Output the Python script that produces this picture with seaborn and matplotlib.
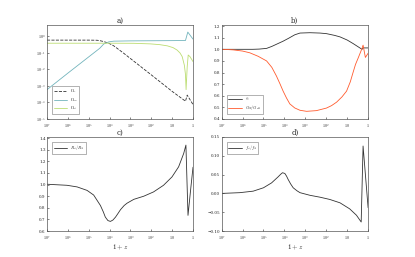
import matplotlib
matplotlib.use("Agg")
import matplotlib.pyplot as plt
import seaborn as sns

# --- panel a): density fractions vs 1+z ---
zr = [1e7, 1e6, 1e5, 4e4, 2.8e4, 1.9e4, 1.1e4, 6.3e3, 2.3e3, 1e3, 1e2, 10, 2.3, 1.9, 1.0]
omega_r = [0.60, 0.60, 0.60, 0.59, 0.55, 0.49, 0.39, 0.27, 0.105, 0.046, 0.0047, 0.00047, 1.2e-4, 2.8e-4, 7.5e-5]

zm = [1e7, 1e6, 1e5, 3e4, 1.9e4, 1.1e4, 6.3e3, 1e3, 1e2, 10, 2.3, 1.78, 1.0]
omega_m = [6e-4, 6e-3, 0.058, 0.19, 0.35, 0.47, 0.52, 0.54, 0.55, 0.56, 0.57, 1.84, 0.69]

zp = [1e7, 1e4, 7e2, 1.1e2, 40, 17, 9, 5.8, 4.2, 3.3, 2.6, 2.3, 2.15, 1.9, 1.7, 1.4, 1.0]
omega_p = [0.39, 0.39, 0.385, 0.355, 0.32, 0.27, 0.21, 0.15, 0.10, 0.06, 0.018, 0.005, 6e-4, 0.0145, 0.075, 0.06, 0.03]

# --- panel b) ---
zb = [1e7, 3.2e5, 1.6e5, 7.1e4, 4e4, 2e4, 1.15e4, 6.3e3, 3.2e3, 1.8e3, 6e2, 2e2, 98, 40, 22, 10, 5.25, 3.2, 1.95, 1.74, 1.0]
alpha = [1.0, 1.0, 1.002, 1.008, 1.025, 1.05, 1.07, 1.095, 1.125, 1.14, 1.143, 1.14, 1.135, 1.12, 1.107, 1.08, 1.05, 1.025, 1.0, 1.012, 1.012]

zg = [1e7, 5e6, 2.75e6, 1e6, 4.5e5, 1.8e5, 7.1e4, 4e4, 2.4e4, 1.6e4, 1.15e4, 7.9e3, 5.5e3, 3.2e3, 1.8e3,
      870, 295, 98, 56, 32, 17.8, 10.7, 7.1, 5.25, 4.0, 3.0, 1.95, 1.74, 1.35, 1.0]
g_ratio = [1.0, 0.998, 0.995, 0.985, 0.97, 0.94, 0.90, 0.845, 0.77, 0.70, 0.64, 0.58, 0.53, 0.495, 0.475,
           0.466, 0.472, 0.494, 0.515, 0.545, 0.59, 0.64, 0.72, 0.80, 0.87, 0.924, 1.008, 1.036, 0.93, 0.966]

# --- panel c) ---
zc = [1e7, 1.1e6, 3.6e5, 1.2e5, 5.8e4, 2.75e4, 2e4, 1.6e4, 1.2e4, 9.1e3, 6.9e3, 5.2e3, 4e3, 3e3, 2e3, 1.45e3,
      6.9e2, 2.3e2, 78, 26, 10.2, 4.9, 2.8, 2.19, 1.74, 1.26, 1.0]
r_ratio = [1.003, 0.994, 0.98, 0.95, 0.91, 0.82, 0.765, 0.72, 0.69, 0.683, 0.695, 0.72, 0.75, 0.784, 0.82, 0.84,
           0.873, 0.90, 0.937, 0.994, 1.066, 1.153, 1.268, 1.34, 0.735, 0.98, 1.15]

# --- panel d) ---
zd = [1e7, 1.35e6, 3.1e5, 1e5, 4.1e4, 2e4, 1.5e4, 1.23e4, 9.5e3, 7.9e3, 6.6e3, 5e3, 3.8e3, 2.5e3, 1.8e3,
      6e2, 2e2, 68, 22, 7.6, 3.6, 2.14, 1.74, 1.0]
f_ratio = [0.0, 0.002, 0.006, 0.015, 0.028, 0.044, 0.051, 0.055, 0.053, 0.046, 0.037, 0.025, 0.015, 0.007, 0.002,
           -0.005, -0.010, -0.016, -0.025, -0.041, -0.058, -0.076, 0.126, -0.038]

xticks = [1e7, 1e6, 1e5, 1e4, 1e3, 1e2, 10, 1]
xticklabels = ["$10^7$", "$10^6$", "$10^5$", "$10^4$", "$10^3$", "$10^2$", "$10$", "$1$"]

sns.set_theme(style="ticks")
plt.rcParams["font.family"] = ["DejaVu Serif"]
plt.rcParams["mathtext.fontset"] = "cm"
plt.rcParams["axes.linewidth"] = 0.5
plt.rcParams["xtick.major.width"] = 0.4
plt.rcParams["ytick.major.width"] = 0.4
plt.rcParams["xtick.major.size"] = 1.5
plt.rcParams["ytick.major.size"] = 1.5

fig = plt.figure(figsize=(4.15, 2.57), dpi=100)
ax_a = fig.add_axes([0.1133, 0.537, 0.3518, 0.366])
ax_b = fig.add_axes([0.534, 0.537, 0.353, 0.366])
ax_c = fig.add_axes([0.1133, 0.101, 0.3518, 0.366])
ax_d = fig.add_axes([0.534, 0.101, 0.353, 0.366])

lw = 0.6
kw = dict(sort=False, estimator=None, legend=False)

sns.lineplot(x=zr, y=omega_r, ax=ax_a, color="#333333", lw=lw, linestyle="--", label=r"$\Omega_r$", **kw)
sns.lineplot(x=zm, y=omega_m, ax=ax_a, color="#72b4bc", lw=lw, label=r"$\Omega_m$", **kw)
sns.lineplot(x=zp, y=omega_p, ax=ax_a, color="#bcdd72", lw=lw, label=r"$\Omega_\phi$", **kw)
ax_a.set_yscale("log")
ax_a.set_ylim(1e-5, 5)
ax_a.set_yticks([1e0, 1e-1, 1e-2, 1e-3, 1e-4, 1e-5])
ax_a.set_yticklabels(["$10^{0}$", "$10^{-1}$", "$10^{-2}$", "$10^{-3}$", "$10^{-4}$", "$10^{-5}$"])

sns.lineplot(x=zb, y=alpha, ax=ax_b, color="#333333", lw=lw, label=r"$\alpha$", **kw)
sns.lineplot(x=zg, y=g_ratio, ax=ax_b, color="#ff5b2e", lw=lw, label=r"$G_N/G_{\rm eff}$", **kw)
ax_b.set_ylim(0.4, 1.21)
ax_b.set_yticks([0.4, 0.5, 0.6, 0.7, 0.8, 0.9, 1.0, 1.1, 1.2])

sns.lineplot(x=zc, y=r_ratio, ax=ax_c, color="#333333", lw=lw, label=r"$R_\phi/R_\Lambda$", **kw)
ax_c.set_ylim(0.6, 1.41)
ax_c.set_yticks([0.6, 0.7, 0.8, 0.9, 1.0, 1.1, 1.2, 1.3, 1.4])

sns.lineplot(x=zd, y=f_ratio, ax=ax_d, color="#333333", lw=lw, label=r"$f_\phi/f_\Lambda$", **kw)
ax_d.set_ylim(-0.10, 0.15)
ax_d.set_yticks([-0.10, -0.05, 0.0, 0.05, 0.10, 0.15])

leg_loc = {"a)": "lower left", "b)": "lower left", "c)": "upper left", "d)": "upper left"}
for ax, t in zip([ax_a, ax_b, ax_c, ax_d], ["a)", "b)", "c)", "d)"]):
    ax.set_xscale("log")
    ax.set_xlim(1e7, 1)
    ax.set_xticks(xticks)
    ax.set_xticklabels(xticklabels)
    ax.minorticks_off()
    ax.tick_params(labelsize=3, pad=1, direction="in")
    ax.tick_params(axis="x", pad=2.2)
    ax.set_title(t, fontsize=5, pad=1.5)
    for s in ax.spines.values():
        s.set_color("#555555")
    leg = ax.legend(loc=leg_loc[t], fontsize=3, handlelength=3.2, borderpad=0.35,
                    labelspacing=0.25, handletextpad=0.7, borderaxespad=1.3, fancybox=False)
    leg.get_frame().set_linewidth(0.4)
    leg.get_frame().set_edgecolor("#555555")
    ax.set_ylabel("")

ax_c.set_xlabel("$1+z$", fontsize=5, labelpad=1)
ax_d.set_xlabel("$1+z$", fontsize=5, labelpad=1)

fig.savefig("out.png", dpi=100)
